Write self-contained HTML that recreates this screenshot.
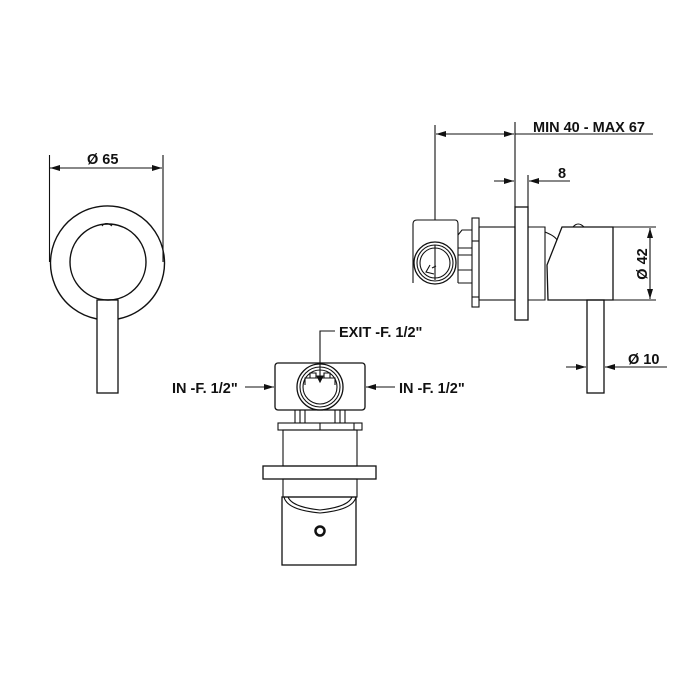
<!DOCTYPE html>
<html><head><style>html,body{margin:0;padding:0;background:#fff}svg{display:block}
text{font-family:"Liberation Sans",Arial,sans-serif;font-weight:bold;font-size:14.5px;fill:#111}</style></head>
<body>
<svg width="700" height="700" viewBox="0 0 700 700" xmlns="http://www.w3.org/2000/svg">
<defs>
<marker id="a" markerWidth="10" markerHeight="6" refX="10" refY="3" orient="auto" markerUnits="userSpaceOnUse"><path d="M0,0 L10,3 L0,6 z" fill="#111"/></marker>
</defs>
<g fill="none" stroke="#111" stroke-width="1.1">
<!-- LEFT VIEW -->
<line x1="49.5" y1="155" x2="49.5" y2="262"/>
<line x1="163" y1="155" x2="163" y2="262"/>
<line x1="78" y1="168" x2="50" y2="168" marker-end="url(#a)"/>
<line x1="78" y1="168" x2="162" y2="168" marker-end="url(#a)"/>
<path d="M97,319 A57,57 0 1 1 118,319" stroke-width="1.4"/>
<circle cx="108" cy="262" r="38" stroke-width="1.4"/>
<path d="M102,226 Q106,221 112,226" />
<rect x="97" y="300" width="21" height="93" stroke-width="1.3"/>

<!-- SIDE VIEW -->
<line x1="435" y1="125" x2="435" y2="220"/>
<line x1="515" y1="122" x2="515" y2="207"/>
<line x1="475" y1="134" x2="436" y2="134" marker-end="url(#a)"/>
<line x1="475" y1="134" x2="514" y2="134" marker-end="url(#a)"/>
<line x1="515" y1="134" x2="653" y2="134"/>
<line x1="528" y1="175" x2="528" y2="207"/>
<line x1="494" y1="181" x2="514" y2="181" marker-end="url(#a)"/>
<line x1="570" y1="181" x2="529" y2="181" marker-end="url(#a)"/>
<rect x="515" y="207" width="13" height="113" stroke-width="1.3"/>
<path d="M413,283 L413,224 Q413,220 417,220 L455,220 Q458,220 458,224 L458,283" />
<circle cx="435" cy="263" r="21" stroke-width="1.3"/>
<circle cx="435" cy="263" r="18"/>
<circle cx="435" cy="263" r="15"/>
<line x1="435" y1="245" x2="435" y2="280"/>
<path d="M430,265 L426,272 L434,274 M432,268 L436,266"/>
<path d="M458,235 L462,230 L472,230 M458,248 L472,248 M458,255 L472,255 M458,270 L472,270 M458,283 L472,283"/>
<rect x="472" y="218" width="7" height="89"/>
<line x1="472" y1="241" x2="479" y2="241"/><line x1="472" y1="297" x2="479" y2="297"/>
<rect x="479" y="227" width="36" height="73"/>
<path d="M528,227 L545,227 L545,300 L528,300"/>
<path d="M545,232 Q555,236 557,240"/>
<path d="M562,227 L613,227 L613,300 L548,300 L547,265 Z" stroke-width="1.3"/>
<path d="M573,227 Q578,221 584,227"/>
<line x1="613" y1="227" x2="656" y2="227"/>
<line x1="613" y1="300" x2="656" y2="300"/>
<line x1="650" y1="262" x2="650" y2="228" marker-end="url(#a)"/>
<line x1="650" y1="262" x2="650" y2="299" marker-end="url(#a)"/>
<rect x="587" y="300" width="17" height="93" stroke-width="1.3"/>
<line x1="566" y1="367" x2="586" y2="367" marker-end="url(#a)"/>
<line x1="667" y1="367" x2="605" y2="367" marker-end="url(#a)"/>

<!-- FRONT VIEW -->
<path d="M335,331 L320,331 L320,382"/>
<path d="M320,382 l-3,-6 l6,0 z" fill="#111"/>
<rect x="275" y="363" width="90" height="47" rx="3" stroke-width="1.3"/>
<circle cx="320" cy="387" r="23" stroke-width="1.3"/>
<circle cx="320" cy="387" r="20"/>
<circle cx="320" cy="387" r="17"/>
<path d="M305,385 L305,378 L335,378 L335,385 M310,378 L310,373 L316,373 L316,378 M324,378 L324,373 L330,373 L330,378"/>
<line x1="245" y1="387" x2="274" y2="387" marker-end="url(#a)"/>
<line x1="395" y1="387" x2="366" y2="387" marker-end="url(#a)"/>
<path d="M295,410 L295,423 M305,410 L305,423 M335,410 L335,423 M345,410 L345,423 M300,410 L300,423 M340,410 L340,423"/>
<rect x="278" y="423" width="84" height="7"/>
<line x1="320" y1="423" x2="320" y2="430"/><line x1="354" y1="423" x2="354" y2="430"/>
<rect x="283" y="430" width="74" height="36"/>
<rect x="263" y="466" width="113" height="13" stroke-width="1.3"/>
<rect x="283" y="479" width="74" height="18"/>
<path d="M284,497 Q287,510 320,513 Q353,510 356,497"/>
<path d="M288,497 Q292,507 320,510 Q348,507 352,497"/>
<rect x="282" y="497" width="74" height="68" stroke-width="1.3"/>
<circle cx="320" cy="531" r="4.5" stroke-width="2.5"/>
</g>
<text x="87" y="164">Ø 65</text>
<text x="533" y="132">MIN 40 - MAX 67</text>
<text x="558" y="178">8</text>
<text x="628" y="364">Ø 10</text>
<text transform="translate(647,264) rotate(-90)" text-anchor="middle">Ø 42</text>
<text x="339" y="337">EXIT -F. 1/2"</text>
<text x="172" y="393">IN -F. 1/2"</text>
<text x="399" y="393">IN -F. 1/2"</text>
</svg>
</body></html>
